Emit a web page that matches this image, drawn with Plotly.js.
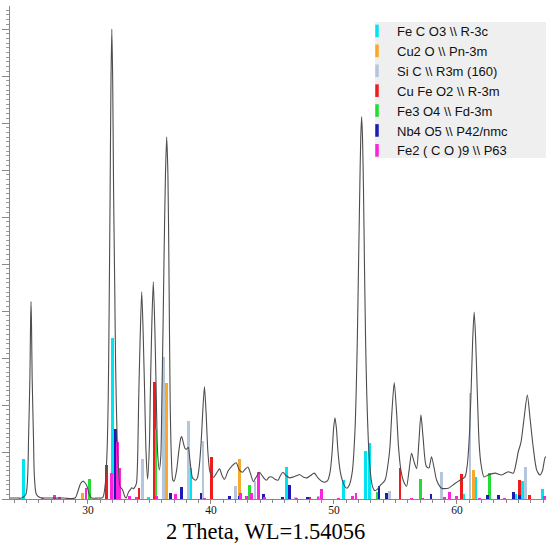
<!DOCTYPE html>
<html>
<head>
<meta charset="utf-8">
<script src="https://cdn.plot.ly/plotly-3.0.1.min.js"></script>
<style>html,body{margin:0;padding:0;background:#fff;}#chart{width:550px;height:547px;}</style>
</head>
<body>
<div id="chart"></div>
<script>
// Measured diffraction profile (2θ in degrees, intensity in arbitrary units)
const profileX = [23.66,24.3,24.6,24.95,25.1,25.17,25.28,25.33,25.37,25.41,25.46,25.57,25.64,25.8,26.1,27.0,28.0,28.95,29.2,29.4,29.6,29.8,29.95,30.1,30.3,30.8,31.2,31.4,31.55,31.65,31.72,31.8,31.87,31.94,32.01,32.08,32.18,32.25,32.38,32.5,32.6,32.8,33.0,33.1,33.3,33.45,33.55,33.7,33.85,33.95,34.05,34.12,34.25,34.37,34.49,34.62,34.72,34.85,35.0,35.06,35.18,35.31,35.44,35.56,35.66,35.8,35.92,36.0,36.1,36.2,36.3,36.4,36.5,36.58,36.68,36.78,36.9,37.0,37.2,37.4,37.55,37.62,37.75,37.9,38.02,38.15,38.3,38.5,38.75,38.9,39.05,39.2,39.33,39.47,39.6,39.75,39.9,40.1,40.25,40.45,40.7,40.9,41.1,41.4,41.7,42.05,42.3,42.55,42.8,43.0,43.2,43.45,43.7,43.95,44.2,44.5,44.75,44.95,45.2,45.45,45.65,45.85,46.1,46.4,46.7,47.0,47.2,47.5,47.8,48.1,48.4,48.7,49.0,49.3,49.5,49.7,49.85,49.97,50.08,50.2,50.33,50.5,50.7,50.9,51.05,51.25,51.5,51.7,51.8,51.9,52.0,52.1,52.18,52.25,52.32,52.4,52.48,52.57,52.67,52.8,52.95,53.1,53.3,53.5,53.8,54.15,54.4,54.55,54.7,54.9,55.1,55.25,55.45,55.7,55.9,56.1,56.31,56.5,56.72,56.9,57.07,57.25,57.5,57.72,57.93,58.15,58.35,58.75,59.3,59.84,60.24,60.65,60.85,61.0,61.15,61.28,61.4,61.52,61.65,61.8,61.95,62.2,62.54,63.09,63.63,64.17,64.58,64.8,64.98,65.2,65.45,65.72,65.95,66.2,66.48,66.75,66.95,67.15,67.24];
const profileY = [0.02,0.02,0.02,0.1,0.5,1.3,2.6,3.7,4.2,3.7,2.6,1.3,0.5,0.1,0.03,0.02,0.02,0.02,0.18,0.33,0.38,0.33,0.25,0.1,0.02,0.02,0.03,0.3,1.0,2.2,4.0,6.5,8.9,10.0,8.9,6.6,4.4,2.8,1.2,0.55,0.27,0.2,0.05,0.02,0.15,0.2,0.24,0.22,0.27,0.35,1.0,2.1,3.5,4.41,3.5,2.1,1.0,0.42,1.2,2.1,3.6,4.62,3.6,2.1,1.0,0.62,0.9,2.0,3.6,5.4,6.9,7.7,6.9,5.0,2.1,0.9,0.4,0.38,0.6,1.05,1.3,1.33,1.2,1.07,1.06,1.1,0.8,0.45,0.4,0.45,0.7,1.2,1.85,2.39,1.85,1.0,0.6,0.47,0.47,0.55,0.64,0.5,0.42,0.6,0.7,0.77,0.62,0.57,0.64,0.68,0.55,0.37,0.48,0.57,0.48,0.4,0.47,0.47,0.42,0.4,0.5,0.57,0.5,0.45,0.47,0.5,0.52,0.47,0.45,0.5,0.55,0.45,0.38,0.36,0.4,0.6,1.0,1.5,1.73,1.5,1.0,0.6,0.38,0.26,0.23,0.3,0.6,1.4,2.2,3.4,5.0,6.6,7.7,8.13,7.7,6.6,5.0,3.4,2.2,1.2,0.6,0.3,0.18,0.2,0.3,0.4,0.75,1.1,1.8,2.48,1.8,1.1,0.6,0.35,0.27,0.6,0.97,0.8,0.65,1.2,1.79,1.3,0.7,0.66,0.9,0.65,0.4,0.23,0.23,0.33,0.4,0.47,0.75,1.3,2.3,3.4,3.98,3.4,2.3,1.2,0.75,0.47,0.51,0.55,0.51,0.58,0.55,0.75,1.0,1.2,1.7,2.21,1.7,1.1,0.62,0.51,0.6,0.87,0.9];

// Reference stick patterns per phase
const phaseNames = ["Fe C O3 \\\\ R-3c","Cu2 O \\\\ Pn-3m","Si C \\\\ R3m (160)","Cu Fe O2 \\\\ R-3m","Fe3 O4 \\\\ Fd-3m","Nb4 O5 \\\\ P42/nmc","Fe2 ( C O )9 \\\\ P63"];
const phaseColors = ["#00e4f0","#f8a92a","#b3c6de","#ee1c1c","#22dd33","#1c1cb4","#ff22dd"];

const feco3X = [24.74,31.98,34.9,38.35,46.17,50.76,52.6,52.87,60.51,61.52,64.8,65.34,66.93];
const feco3Y = [0.85,3.42,0.04,0.67,0.68,0.4,1.02,1.2,0.1,0.47,0.1,0.38,0.21];
const cu2oX = [29.57,36.4,42.3,61.38];
const cu2oY = [0.12,2.47,0.85,0.62];
const sicX = [34.42,36.12,38.15,39.35,42.03,43.58,46.9,48.72,54.5,58.76,61.06,65.58];
const sicY = [0.85,3.03,1.65,1.24,0.27,0.38,0.04,0.06,0.17,0.58,2.26,0.69];
const cufeo2X = [31.52,34.15,35.37,40.05,48.05,55.37,60.38,65.12,65.87];
const cufeo2Y = [0.72,0.23,2.5,0.89,0.05,0.65,0.53,0.4,0.09];
const fe3o4X = [30.1,35.53,43.17,53.55,57.07,62.68];
const fe3o4Y = [0.43,1.5,0.3,0.15,0.42,0.55];
const nb4o5X = [32.2,36.72,37.64,39.19,41.49,42.3,44.27,45.8,46.37,47.88,53.66,54.29,57.89,62.46,63.36,64.6,65.08];
const nb4o5Y = [1.5,0.13,0.26,0.12,0.06,0.06,0.11,0.04,0.3,0.04,0.28,0.12,0.1,0.09,0.09,0.14,0.09];
const fe2co9X = [26.3,27.24,27.7,28.3,29.84,31.95,32.41,32.55,33.36,33.96,35.6,37.13,39.45,42.41,42.85,43.27,43.87,44.35,46.95,48.7,49.0,50.34,51.49,51.79,56.3,57.2,58.97,59.43,59.97,61.85,63.9,67.15];
const fe2co9Y = [0.02,0.085,0.04,0.03,0.23,0.55,1.22,0.66,0.06,0.05,0.06,0.1,0.03,0.12,0.06,0.12,0.57,0.04,0.03,0.04,0.22,0.03,0.06,0.12,0.03,0.03,0.04,0.14,0.06,0.03,0.03,0.07];

const xTickVals = [30,40,50,60];
const xTickText = ["30","40","50","60"];
const xTitle = "2 Theta, WL=1.54056";

const phaseX = [feco3X,cu2oX,sicX,cufeo2X,fe3o4X,nb4o5X,fe2co9X];
const phaseY = [feco3Y,cu2oY,sicY,cufeo2Y,fe3o4Y,nb4o5Y,fe2co9Y];

const traces = [{
  type:'scatter', mode:'lines', x:profileX, y:profileY,
  line:{color:'#4d4d4d', width:1.1, shape:'spline', smoothing:0.7},
  showlegend:false, hoverinfo:'skip'
}];
for (let i=0;i<phaseNames.length;i++){
  traces.push({type:'bar', x:phaseX[i], y:phaseY[i], width:0.24,
    marker:{color:phaseColors[i], line:{width:0}}, showlegend:false, name:phaseNames[i], legendgroup:'g'+i});
}
for (let i=0;i<phaseNames.length;i++){
  traces.push({type:'scatter', mode:'markers', x:[null], y:[null], name:phaseNames[i], legendgroup:'g'+i,
    marker:{symbol:'line-ns', size:9, line:{width:3.5, color:phaseColors[i]}}, showlegend:true});
}

const W=550,H=547, L=10,R=4,T=6,B=48;
const pw=W-L-R, ph=H-T-B;
const serif = 'Liberation Serif, Times New Roman, serif';
const layout = {
  width:W, height:H,
  margin:{l:L,r:R,t:T,b:B,pad:0},
  paper_bgcolor:'#fff', plot_bgcolor:'#fff',
  barmode:'overlay', bargap:0,
  showlegend:true,
  legend:{x:(357-L)/pw, y:(ph-(16-T))/ph, xanchor:'left', yanchor:'top', bgcolor:'rgba(0,0,0,0)',
    borderwidth:0, font:{family:'Liberation Sans, Arial, sans-serif', size:13, color:'#111'}, traceorder:'normal', itemclick:false},
  shapes:[{type:'rect', xref:'paper', yref:'paper', x0:(375-L)/pw, x1:(546-L)/pw, y0:(ph-(158-T))/ph, y1:(ph-(22-T))/ph,
    fillcolor:'#efefef', line:{width:0}, layer:'below'}],
  annotations:[{text:xTitle, xref:'paper', yref:'paper', x:(265-L)/pw, y:(ph-(531-T))/ph, xanchor:'center', yanchor:'middle',
    showarrow:false, font:{family:serif, size:22.5, color:'#000'}}],
  xaxis:{range:[23.66,67.24], showgrid:false, zeroline:false, showline:true, linecolor:'#888', linewidth:1,
    ticks:'outside', ticklen:4, tickcolor:'#888', tickvals:xTickVals, ticktext:xTickText, ticklabelstandoff:-4,
    minor:{dtick:1, tick0:0, ticks:'outside', ticklen:3, tickcolor:'#888'},
    tickfont:{family:serif, size:11.5, color:'#111'}},
  yaxis:{range:[0,10.49], showgrid:false, zeroline:false, showline:true, linecolor:'#888', linewidth:1,
    ticks:'outside', ticklen:7, tickcolor:'#888', dtick:1, tick0:0, showticklabels:false,
    minor:{dtick:0.1, ticks:'outside', ticklen:3, tickcolor:'#999'}},
};
Plotly.newPlot('chart', traces, layout, {staticPlot:true, displayModeBar:false});
</script>
</body>
</html>
